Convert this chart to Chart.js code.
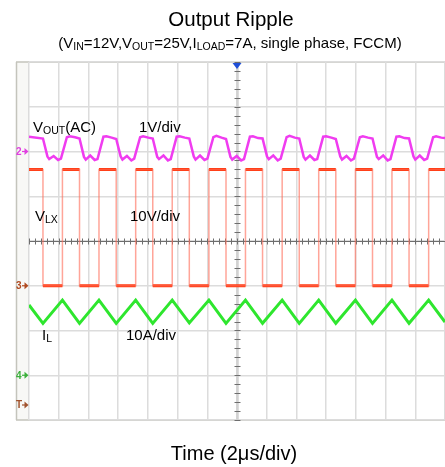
<!DOCTYPE html>
<html>
<head>
<meta charset="utf-8">
<script src="https://cdn.jsdelivr.net/npm/chart.js@4.4.1/dist/chart.umd.min.js"></script>
<style>
  body { margin: 0; background: #fff; }
  #wrap { position: relative; width: 445px; height: 467px; font-family: "Liberation Sans", Arial, sans-serif; color: #000; }
  #scope { position: absolute; left: 0; top: 0; }
  .lbl { position: absolute; white-space: nowrap; line-height: 1; }
  .sub { position: relative; top: 2px; }
</style>
</head>
<body>
<div id="wrap">
  <canvas id="scope" width="445" height="467"></canvas>
  <div class="lbl" style="left:0; width:462px; text-align:center; top:9px; font-size:20.5px;">Output Ripple</div>
  <div class="lbl" style="left:0; width:460px; text-align:center; top:35px; font-size:15px;">(V<span class="sub" style="font-size:10.5px">IN</span>=12V,V<span class="sub" style="font-size:10.5px">OUT</span>=25V,I<span class="sub" style="font-size:10.5px">LOAD</span>=7A, single phase, FCCM)</div>
  <div class="lbl" style="left:33px; top:119px; font-size:15px;">V<span class="sub" style="font-size:10.5px">OUT</span>(AC)</div>
  <div class="lbl" style="left:139px; top:119px; font-size:15px;">1V/div</div>
  <div class="lbl" style="left:35px; top:208px; font-size:15px;">V<span class="sub" style="font-size:10.5px">LX</span></div>
  <div class="lbl" style="left:130px; top:208px; font-size:15px;">10V/div</div>
  <div class="lbl" style="left:42px; top:327px; font-size:15px;">I<span class="sub" style="font-size:10.5px">L</span></div>
  <div class="lbl" style="left:126px; top:327px; font-size:15px;">10A/div</div>
  <div class="lbl" style="left:0; width:468px; text-align:center; top:443px; font-size:20px;">Time (2μs/div)</div>
</div>
<script>
// time base in microseconds, trigger at 0 (2 us/div, 14 div across)
const timeTicks = [-14, -12, -10, -8, -6, -4, -2, 0, 2, 4, 6, 8, 10, 12, 14];

// switch node voltage V_LX (V), 10V/div
const lxTime = [-14, -13.06, -13.06, -11.75, -11.75, -10.60, -10.60, -9.29, -9.29, -8.13, -8.13, -6.82, -6.82,
  -5.67, -5.67, -4.36, -4.36, -3.21, -3.21, -1.89, -1.89, -0.74, -0.74, 0.57, 0.57, 1.72, 1.72, 3.04, 3.04,
  4.19, 4.19, 5.50, 5.50, 6.65, 6.65, 7.97, 7.97, 9.12, 9.12, 10.43, 10.43, 11.58, 11.58, 12.90, 12.90, 14];
const lxVolts = [26, 26, 0, 0, 26, 26, 0, 0, 26, 26, 0, 0, 26,
  26, 0, 0, 26, 26, 0, 0, 26, 26, 0, 0, 26, 26, 0, 0, 26,
  26, 0, 0, 26, 26, 0, 0, 26, 26, 0, 0, 26, 26, 0, 0, 26, 26];

// inductor current I_L (A), 10A/div
const ilTime = [-14, -13.06, -11.75, -10.60, -9.29, -8.13, -6.82, -5.67, -4.36, -3.21, -1.89, -0.74, 0.57,
  1.72, 3.04, 4.19, 5.50, 6.65, 7.97, 9.12, 10.43, 11.58, 12.90, 14];
const ilAmps = [15.7, 11.6, 16.8, 11.6, 16.8, 11.6, 16.8, 11.6, 16.8, 11.7, 16.8, 11.6, 16.8,
  11.6, 16.8, 11.6, 16.8, 11.6, 16.8, 11.6, 16.8, 11.6, 16.8, 11.9];

// output ripple V_OUT(AC) (V), 1V/div
const outTime = [-14,
  -13.06, -12.76, -12.64, -12.34, -12.04, -11.85, -11.45, -11.25, -10.90,
  -10.60, -10.30, -10.18, -9.88, -9.58, -9.39, -8.99, -8.79, -8.44,
  -8.13, -7.83, -7.71, -7.41, -7.11, -6.92, -6.52, -6.32, -5.97,
  -5.67, -5.37, -5.25, -4.95, -4.65, -4.46, -4.06, -3.86, -3.51,
  -3.21, -2.91, -2.79, -2.49, -2.19, -1.99, -1.59, -1.39, -1.04,
  -0.74, -0.44, -0.32, -0.02, 0.28, 0.47, 0.87, 1.07, 1.42,
  1.72, 2.02, 2.14, 2.44, 2.74, 2.94, 3.34, 3.54, 3.89,
  4.19, 4.49, 4.61, 4.91, 5.21, 5.40, 5.80, 6.00, 6.35,
  6.65, 6.95, 7.07, 7.37, 7.67, 7.87, 8.27, 8.47, 8.82,
  9.12, 9.42, 9.54, 9.84, 10.14, 10.33, 10.73, 10.93, 11.28,
  11.58, 11.88, 12.00, 12.30, 12.60, 12.80, 13.20, 13.40, 13.75,
  14];
const outVolts = [0.33,
  0.29, -0.11, -0.17, -0.10, -0.19, -0.16, 0.32, 0.34, 0.32,
  0.29, -0.12, -0.18, -0.09, -0.19, -0.17, 0.33, 0.34, 0.31,
  0.28, -0.11, -0.18, -0.10, -0.20, -0.16, 0.32, 0.34, 0.31,
  0.29, -0.12, -0.17, -0.09, -0.20, -0.17, 0.33, 0.34, 0.31,
  0.29, -0.11, -0.18, -0.09, -0.19, -0.16, 0.32, 0.35, 0.31,
  0.28, -0.12, -0.18, -0.10, -0.20, -0.17, 0.33, 0.34, 0.30,
  0.29, -0.11, -0.17, -0.09, -0.20, -0.16, 0.32, 0.35, 0.31,
  0.29, -0.12, -0.18, -0.09, -0.19, -0.17, 0.33, 0.34, 0.31,
  0.28, -0.11, -0.18, -0.10, -0.20, -0.16, 0.32, 0.34, 0.31,
  0.29, -0.12, -0.17, -0.09, -0.20, -0.17, 0.33, 0.34, 0.30,
  0.29, -0.11, -0.18, -0.09, -0.19, -0.16, 0.32, 0.34, 0.31,
  0.30];

// channel ground markers on the left rail
const markers = [
  { text: '2', axis: 'yOut', color: '#e040e0' },
  { text: '3', axis: 'yLx', color: '#b04a20' },
  { text: '4', axis: 'yIl', color: '#3cb03c' }
];

function toPoints(xs, ys) {
  return xs.map((x, i) => ({ x: x, y: ys[i] }));
}

// flat parts of V_LX only (break the line at every vertical edge)
function plateaus(xs, ys) {
  const pts = [];
  xs.forEach((x, i) => {
    pts.push({ x: x, y: ys[i] });
    if (i < xs.length - 1 && xs[i + 1] === x) pts.push({ x: x, y: null });
  });
  return pts;
}

const scopeFrame = {
  id: 'scopeFrame',
  beforeDraw(chart) {
    const ctx = chart.ctx;
    const a = chart.chartArea;
    ctx.save();
    ctx.fillStyle = '#f8f8f6';
    ctx.fillRect(16, a.top, a.left - 16, a.bottom - a.top);
    ctx.strokeStyle = '#c4c4bc';
    ctx.lineWidth = 1.5;
    ctx.beginPath();
    ctx.moveTo(16.5, a.top);
    ctx.lineTo(16.5, a.bottom);
    ctx.moveTo(16, a.top);
    ctx.lineTo(a.right, a.top);
    ctx.moveTo(16, a.bottom);
    ctx.lineTo(a.right, a.bottom);
    ctx.stroke();
    ctx.restore();
  },
  beforeDatasetsDraw(chart) {
    const ctx = chart.ctx;
    const a = chart.chartArea;
    const xs = chart.scales.x;
    const ys = chart.scales.y;
    const cx = Math.round(xs.getPixelForValue(0)) + 0.5;
    const cy = Math.round(ys.getPixelForValue(0)) + 0.5;
    ctx.save();
    // vertical center band
    ctx.strokeStyle = '#d2d2d2';
    ctx.lineWidth = 2.5;
    ctx.beginPath();
    ctx.moveTo(cx, a.top);
    ctx.lineTo(cx, a.bottom);
    ctx.stroke();
    // horizontal center line
    ctx.strokeStyle = '#6e6e6e';
    ctx.lineWidth = 1;
    ctx.beginPath();
    ctx.moveTo(a.left, cy);
    ctx.lineTo(a.right, cy);
    // minor ticks, 5 per division
    for (let t = -14; t <= 14.001; t += 0.4) {
      const px = Math.round(xs.getPixelForValue(t)) + 0.5;
      ctx.moveTo(px, cy - 3);
      ctx.lineTo(px, cy + 3);
    }
    for (let v = -4; v <= 4.001; v += 0.2) {
      const py = Math.round(ys.getPixelForValue(v)) + 0.5;
      ctx.moveTo(cx - 3, py);
      ctx.lineTo(cx + 3, py);
    }
    ctx.stroke();
    ctx.restore();
  },
  afterDraw(chart) {
    const ctx = chart.ctx;
    const a = chart.chartArea;
    ctx.save();
    // trigger position
    const tx = chart.scales.x.getPixelForValue(0);
    ctx.fillStyle = '#1f4fd8';
    ctx.beginPath();
    ctx.moveTo(tx - 4.5, a.top + 1);
    ctx.lineTo(tx + 4.5, a.top + 1);
    ctx.lineTo(tx, a.top + 7);
    ctx.closePath();
    ctx.fill();
    // ground markers
    const list = markers.map(m => ({ text: m.text, color: m.color, y: chart.scales[m.axis].getPixelForValue(0) }));
    list.push({ text: 'T', color: '#a0522d', y: 405 });
    ctx.font = 'bold 10px "Liberation Sans", Arial, sans-serif';
    ctx.textBaseline = 'middle';
    list.forEach(m => {
      ctx.fillStyle = m.color;
      ctx.strokeStyle = m.color;
      ctx.fillText(m.text, 16, m.y + 0.5);
      ctx.lineWidth = 1.2;
      ctx.beginPath();
      ctx.moveTo(22, m.y);
      ctx.lineTo(26, m.y);
      ctx.stroke();
      ctx.beginPath();
      ctx.moveTo(24.5, m.y - 3.5);
      ctx.lineTo(28.5, m.y);
      ctx.lineTo(24.5, m.y + 3.5);
      ctx.closePath();
      ctx.fill();
    });
    ctx.restore();
  }
};

const gridStyle = { color: '#dcdcdc', lineWidth: 1.5, drawTicks: false };

new Chart(document.getElementById('scope'), {
  type: 'line',
  data: {
    datasets: [
      {
        label: 'VOUT(AC)',
        data: toPoints(outTime, outVolts),
        yAxisID: 'yOut',
        borderColor: '#f03cf0',
        borderWidth: 2.5
      },
      {
        label: 'VLX edges',
        data: toPoints(lxTime, lxVolts),
        yAxisID: 'yLx',
        borderColor: 'rgba(255,105,85,0.6)',
        borderWidth: 1.5
      },
      {
        label: 'VLX',
        data: plateaus(lxTime, lxVolts),
        yAxisID: 'yLx',
        borderColor: '#ff3a10',
        borderWidth: 3,
        spanGaps: false
      },
      {
        label: 'IL',
        data: toPoints(ilTime, ilAmps),
        yAxisID: 'yIl',
        borderColor: '#2ee62e',
        borderWidth: 3
      }
    ]
  },
  options: {
    responsive: false,
    animation: false,
    events: [],
    layout: { padding: { left: 29, right: 0, top: 62, bottom: 47 } },
    elements: { point: { radius: 0 }, line: { borderCapStyle: 'butt', tension: 0 } },
    plugins: { legend: { display: false }, tooltip: { enabled: false }, title: { display: false } },
    scales: {
      x: {
        type: 'linear', min: timeTicks[0], max: timeTicks[timeTicks.length - 1],
        afterBuildTicks: s => { s.ticks = timeTicks.map(v => ({ value: v })); },
        ticks: { display: false },
        grid: gridStyle,
        border: { display: false }
      },
      y: {
        type: 'linear', min: -4, max: 4,
        ticks: { display: false, stepSize: 1 },
        grid: gridStyle,
        border: { display: false }
      },
      yOut: { type: 'linear', display: false, min: -6, max: 2 },
      yLx: { type: 'linear', display: false, min: -30, max: 50 },
      yIl: { type: 'linear', display: false, min: -10, max: 70 }
    }
  },
  plugins: [scopeFrame]
});
</script>
</body>
</html>
